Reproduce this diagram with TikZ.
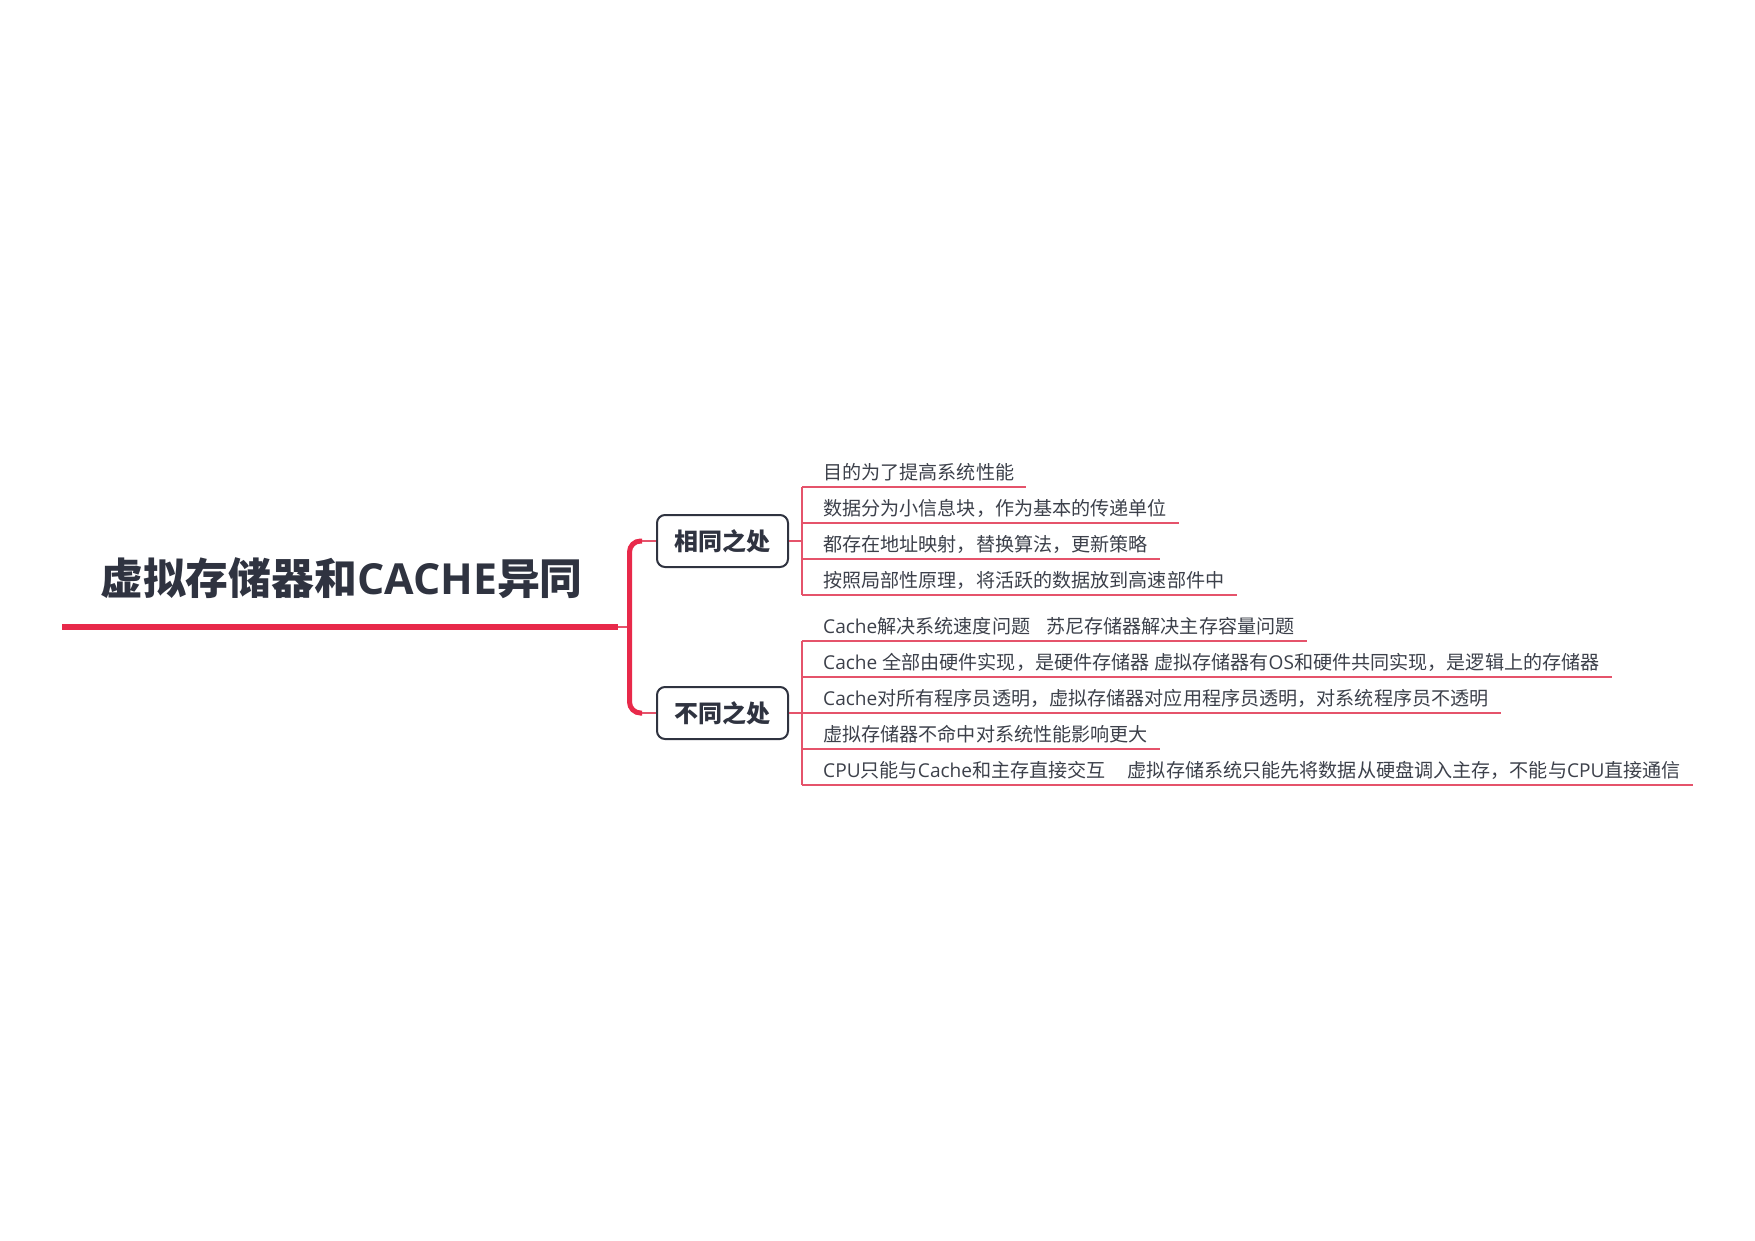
\documentclass[tikz,border=0pt]{standalone}
\usepackage{fontspec}
\setmainfont{Open Sans}
\newfontfamily\latfam{Open Sans}
\newfontfamily\cjkfam{Noto Sans CJK SC}
% switch to the CJK face for Chinese characters
\XeTeXinterchartokenstate=1
\newXeTeXintercharclass\cjkclass
\count255="3000
\loop \XeTeXcharclass\count255=\cjkclass \ifnum\count255<"9FFF \advance\count255 by 1 \repeat
\count255="FF00
\loop \XeTeXcharclass\count255=\cjkclass \ifnum\count255<"FFEF \advance\count255 by 1 \repeat
\XeTeXinterchartoks 0 \cjkclass = {\cjkfam}
\XeTeXinterchartoks 4095 \cjkclass = {\cjkfam}
\XeTeXinterchartoks \cjkclass 0 = {\latfam}
\definecolor{mmred}{HTML}{E8294A}
\definecolor{mmpink}{HTML}{E5536B}
\definecolor{mmdark}{HTML}{2F3340}
\definecolor{mmtext}{HTML}{3C404A}
\tikzset{
    trunk/.style={line width=6.5pt,mmred},
    branch/.style={line width=5pt,mmred,rounded corners=11pt},
    twig/.style={line width=1.3pt,mmpink},
    topicbox/.style={draw=mmdark,line width=2pt,rounded corners=8pt,minimum width=131pt,minimum height=52pt,inner sep=0pt,text=mmdark,font=\fontsize{24}{28}\selectfont\bfseries},
    leaf/.style={anchor=base west,inner sep=0pt,text=mmtext,font=\fontsize{19.1}{23}\selectfont},
}
\begin{document}
\begin{tikzpicture}[x=1pt,y=-1pt]
    \useasboundingbox (0,0) rectangle (1755,1240);
    % root
    \node[text=mmdark,font=\fontsize{42.8}{50}\selectfont\bfseries] (root) at (341.5,578) {虚拟存储器和CACHE异同};
    \coordinate (r0) at (62,627);
    \coordinate (r1) at (618,627);
    \coordinate (fork) at (629.5,627);
    \draw[trunk] (r0) -- (r1);
    \draw[twig] (r1) -- (fork);
    % topics
    \node[topicbox] (same) at (722.5,541) {相同之处};
    \node[topicbox] (diff) at (722.5,713) {不同之处};
    \draw[branch] ([xshift=-14pt]same.west) -- (fork |- same.west) -- (fork |- diff.west) -- ([xshift=-14pt]diff.west);
    \draw[twig] ([xshift=-14pt]same.west) -- (same.west);
    \draw[twig] ([xshift=-14pt]diff.west) -- (diff.west);
    % leaves of the first topic
    \foreach \txt [count=\i] in {{目的为了提高系统性能},{数据分为小信息块，作为基本的传递单位},{都存在地址映射，替换算法，更新策略},{按照局部性原理，将活跃的数据放到高速部件中}}{
        \coordinate (p\i) at (802,{451+36*\i});
        \node[leaf] (s\i) at ([xshift=21pt,yshift=8pt]p\i) {\txt};
        \draw[twig] (p\i) -- (p\i -| s\i.east) -- ++(12pt,0);
    }
    \draw[twig] (same.east) -- (same.east -| p1);
    \draw[twig] (p1) -- (p4);
    % leaves of the second topic
    \foreach \txt [count=\i] in {{Cache解决系统速度问题\hspace{16pt}苏尼存储器解决主存容量问题},{Cache 全部由硬件实现，是硬件存储器 虚拟存储器有OS和硬件共同实现，是逻辑上的存储器},{Cache对所有程序员透明，虚拟存储器对应用程序员透明，对系统程序员不透明},{虚拟存储器不命中对系统性能影响更大},{CPU只能与Cache和主存直接交互\hspace{22pt}虚拟存储系统只能先将数据从硬盘调入主存，不能与CPU直接通信}}{
        \coordinate (q\i) at (802,{605+36*\i});
        \node[leaf] (d\i) at ([xshift=21pt,yshift=8pt]q\i) {\txt};
        \draw[twig] (q\i) -- (q\i -| d\i.east) -- ++(12pt,0);
    }
    \draw[twig] (diff.east) -- (diff.east -| q1);
    \draw[twig] (q1) -- (q5);
\end{tikzpicture}
\end{document}
